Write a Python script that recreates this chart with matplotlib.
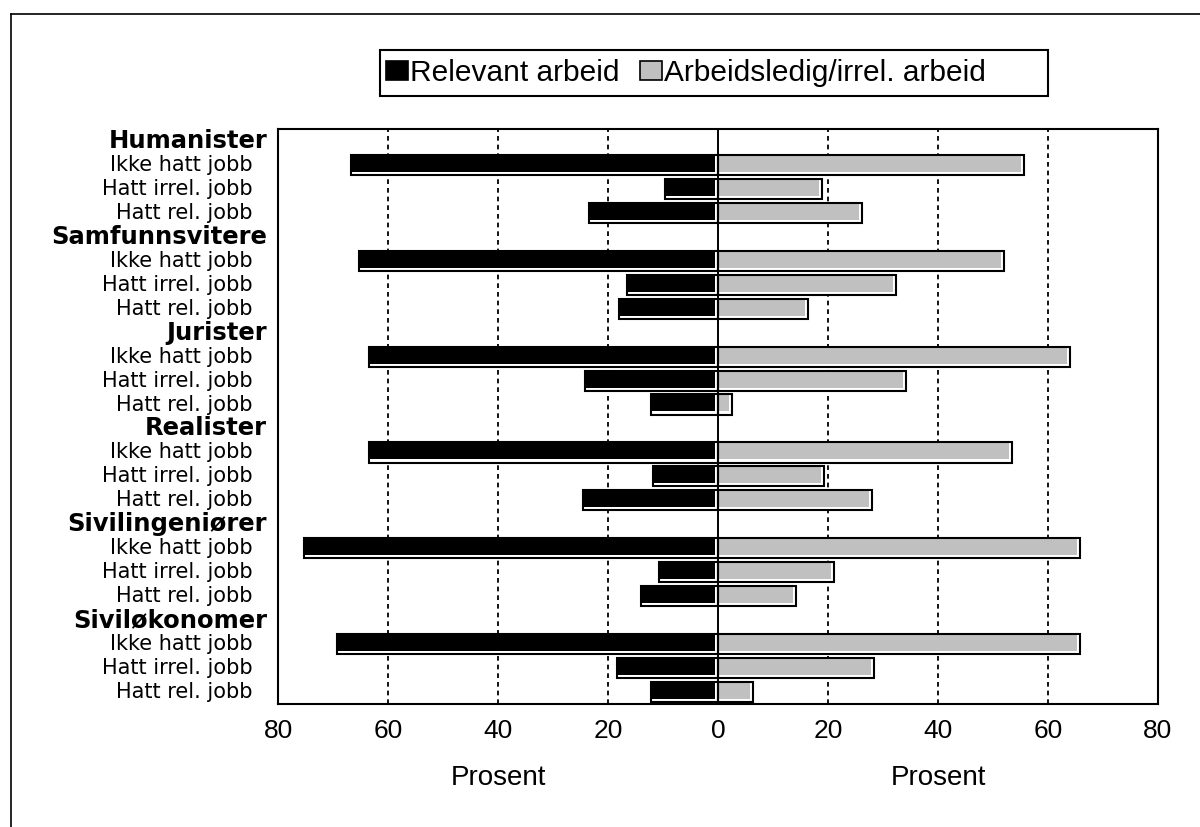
import matplotlib
matplotlib.use('Agg')
import matplotlib.pyplot as plt
from matplotlib.patches import Patch, Rectangle
from matplotlib.lines import Line2D

# categories
groups = ['Humanister', 'Samfunnsvitere', 'Jurister', 'Realister',
          'Sivilingeniører', 'Siviløkonomer']
subgroups = ['Ikke hatt jobb', 'Hatt irrel. jobb', 'Hatt rel. jobb']

# percent, one value per group x subgroup (in order above)
relevant = [66.8, 9.6, 23.5,
            65.3, 16.5, 18.0,
            63.5, 24.2, 12.2,
            63.5, 11.8, 24.5,
            75.2, 10.7, 14.0,
            69.2, 18.4, 12.2]
irrelevant = [55.7, 18.9, 26.2,
              52.0, 32.4, 16.4,
              64.0, 34.2, 2.5,
              53.5, 19.3, 28.0,
              65.8, 21.1, 14.2,
              65.8, 28.4, 6.4]

xticks = [-80, -60, -40, -20, 0, 20, 40, 60, 80]
xticklabels = ['80', '60', '40', '20', '0', '20', '40', '60', '80']

legend_labels = ['Relevant arbeid', 'Arbeidsledig/irrel. arbeid']
black = '#000000'
grey = '#c0c0c0'

fig = plt.figure(figsize=(12, 8.27), dpi=100)
ax = fig.add_axes([0.2317, 0.1487, 0.7333, 0.6953])

# row positions: header row, then three subgroup rows per group
bar_rows = []
header_rows = []
for g in range(len(groups)):
    header_rows.append(4 * g)
    for s in range(len(subgroups)):
        bar_rows.append(4 * g + 1 + s)

h = 0.84
dx = 0.55    # inner highlight inset, x units
dy = 0.13    # inner highlight inset, row units


def shaded_bar(y, left, width, color):
    # white under-rect, filled inner rect (inset right/bottom), black outline
    ax.barh(y, width, left=left, height=h, color='white', edgecolor='none', zorder=2)
    ax.add_patch(Rectangle((left, y - h / 2), max(width - dx, 0), h - dy,
                           facecolor=color, edgecolor='none', zorder=3))
    ax.barh(y, width, left=left, height=h, facecolor='none',
            edgecolor='black', linewidth=1.5, zorder=4)


for y, rv, iv in zip(bar_rows, relevant, irrelevant):
    shaded_bar(y, -rv, rv, black)
    shaded_bar(y, 0, iv, grey)

# gridlines
for xv in [-60, -40, -20, 20, 40, 60]:
    ax.axvline(xv, color='black', linewidth=1.3, dashes=(2.6, 2.2), zorder=1)
ax.axvline(0, color='black', linewidth=1.4, zorder=5)

ax.set_xlim(-80, 80)
ax.set_ylim(23.5, -0.5)
ax.set_xticks(xticks)
ax.set_xticklabels(xticklabels, family='Liberation Sans', fontsize=19)
ax.tick_params(axis='x', length=0, pad=11)
ax.set_yticks([])
for sp in ax.spines.values():
    sp.set_linewidth(1.5)

# row labels
trans = ax.get_yaxis_transform()
for g, name in enumerate(groups):
    ax.text(-0.0125, header_rows[g], name, transform=trans, ha='right',
            va='center', fontsize=17.5, fontweight='bold', family='DejaVu Sans')
    for s, sub in enumerate(subgroups):
        ax.text(-0.0285, 4 * g + 1 + s, sub, transform=trans, ha='right',
                va='center', fontsize=15, family='DejaVu Sans')

fig.text(0.415, 0.059, 'Prosent', ha='center', va='center',
         fontsize=20, family='Liberation Sans')
fig.text(0.782, 0.059, 'Prosent', ha='center', va='center',
         fontsize=20, family='Liberation Sans')

handles = [Patch(facecolor=black, edgecolor='black', linewidth=1.2),
           Patch(facecolor=grey, edgecolor='black', linewidth=1.2)]
leg = fig.legend(handles, legend_labels, loc='center left', ncol=2,
                 bbox_to_anchor=(0.3215, 0.9117), frameon=False,
                 prop={'family': 'Liberation Sans', 'size': 21.5},
                 handlelength=0.75, handleheight=0.6, handletextpad=0.05,
                 columnspacing=0.7, borderpad=0.0, borderaxespad=0)
# legend box, wider than its entries as in the original
fig.add_artist(Rectangle((380 / 1200, 1 - 96 / 827), 668 / 1200, 46 / 827,
                         transform=fig.transFigure, facecolor='none',
                         edgecolor='black', linewidth=1.5))

# outer frame (left and top edges only visible)
fig.add_artist(Line2D([0.0088, 0.0088], [0, 0.983], transform=fig.transFigure,
                      color='black', linewidth=1.2))
fig.add_artist(Line2D([0.0088, 1.0], [0.983, 0.983], transform=fig.transFigure,
                      color='black', linewidth=1.2))

plt.savefig('out.png', dpi=100, facecolor='white')
plt.close()
